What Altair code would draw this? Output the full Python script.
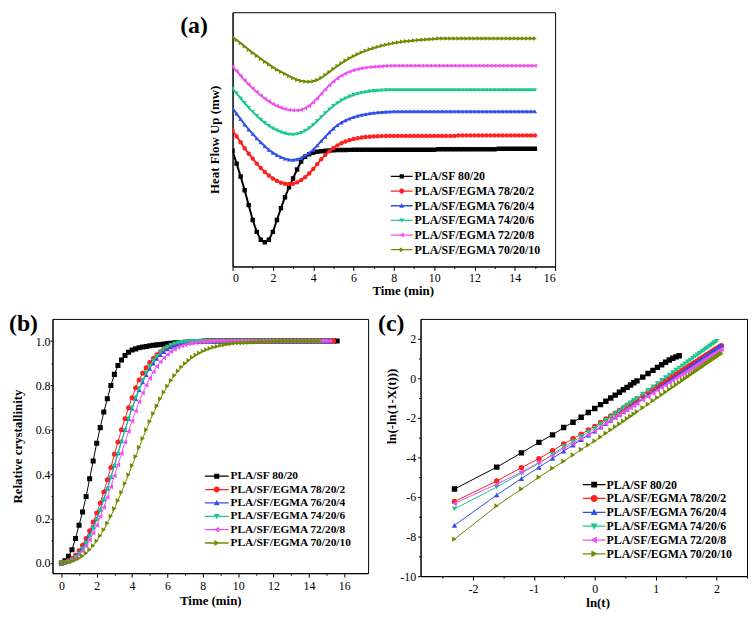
import altair as alt
import numpy as np
import pandas as pd

names = ["PLA/SF 80/20", "PLA/SF/EGMA 78/20/2", "PLA/SF/EGMA 76/20/4",
         "PLA/SF/EGMA 74/20/6", "PLA/SF/EGMA 72/20/8", "PLA/SF/EGMA 70/20/10"]
colors = ["#000000", "#ff2020", "#3050e8", "#1ec88c", "#f050f0", "#6e8c00"]
shapes = ["square", "circle", "triangle-up", "triangle-down", "triangle-left", "triangle-right"]

LEG_SIZE = 144          # nominal legend symbol size (12 px box)
UNIT = 6.0              # px per path unit for that size


def legend_paths(length_px, marker_px):
    """Legend glyphs: a short line with the marker drawn on its middle."""
    x0 = -1.0
    x1 = x0 + length_px / UNIT
    m = (x0 + x1) / 2
    r = marker_px / 2 / UNIT
    h = 0.65 / UNIT
    ln = f"M{x0:.3f},{-h:.3f}H{x1:.3f}V{h:.3f}H{x0:.3f}Z "
    s = 0.85 * r
    return [
        ln + f"M{m - s:.3f},{-s:.3f}H{m + s:.3f}V{s:.3f}H{m - s:.3f}Z",
        ln + f"M{m + r:.3f},0A{r:.3f},{r:.3f},0,1,1,{m - r:.3f},0A{r:.3f},{r:.3f},0,1,1,{m + r:.3f},0Z",
        ln + f"M{m:.3f},{-r:.3f}L{m + r:.3f},{0.8 * r:.3f}L{m - r:.3f},{0.8 * r:.3f}Z",
        ln + f"M{m:.3f},{r:.3f}L{m - r:.3f},{-0.8 * r:.3f}L{m + r:.3f},{-0.8 * r:.3f}Z",
        ln + f"M{m - r:.3f},0L{m + 0.8 * r:.3f},{-r:.3f}L{m + 0.8 * r:.3f},{r:.3f}Z",
        ln + f"M{m + r:.3f},0L{m - 0.8 * r:.3f},{r:.3f}L{m - 0.8 * r:.3f},{-r:.3f}Z",
    ]


def pad(vals, v, n):
    return list(vals) + [v] * (n - len(vals))

# ---------------- (a) heat flow, time step 0.2 min ----------------
tA = [round(0.2 * i, 1) for i in range(76)]
heat_black = pad([117, 104, 91, 77, 62, 47, 35, 27, 24.5, 27, 35, 47, 59, 70, 80, 89, 98, 106, 111,
                  113.5, 115, 116, 116.5, 117, 117.3, 117.5, 117.6, 117.7, 117.8, 117.9, 118]
                 + [118] * 20 + [118.5] * 15, 119, 76)
heat_red = pad([137.7, 131.5, 125.5, 119.5, 114, 109, 104, 99.5, 95.5, 92, 89, 86.5, 84.7, 83.6, 83.3,
                83.6, 85, 87.3, 90.3, 94, 98.5, 103.5, 108.5, 112.8, 116.5, 119.7, 122.4, 124.6, 126.3,
                127.7, 128.8, 129.7, 130.3, 130.8, 131.2, 131.5, 131.7, 131.8, 131.9, 132, 132]
               + [132] * 15, 132.5, 76)
heat_blue = pad([160, 154.5, 149, 143.5, 138.5, 134, 129.5, 125.5, 121.5, 118, 115, 112.5, 110.5, 109,
                 108, 107.7, 108.3, 109.8, 112, 114.8, 118, 122.5, 127, 131, 135.5, 139.5, 142.8, 145.5,
                 147.7, 149.5, 151, 152.2, 153.2, 154, 154.7, 155.2, 155.7, 156, 156.3, 156.5, 156.7],
                156.7, 76)
heat_green = pad([180, 175, 170, 165, 160.5, 156.3, 152.3, 148.5, 145, 142, 139.5, 137.5, 135.8, 134.5,
                  133.6, 133.3, 133.8, 135, 137, 139.8, 143.2, 147, 151, 155, 158.8, 162.2, 165.2, 167.8,
                  170, 171.8, 173.3, 174.5, 175.5, 176.3, 176.9, 177.4, 177.7, 178, 178.2, 178.3, 178.3],
                 178.3, 76)
heat_magenta = pad([202.3, 197.5, 192.8, 188.2, 184, 180, 176.3, 172.8, 169.7, 166.8, 164.3, 162.2, 160.5,
                    159.2, 158.3, 157.8, 157.8, 158.5, 160, 162.5, 166, 170, 174.5, 179, 183.3, 187, 190.2,
                    192.9, 195.1, 196.9, 198.3, 199.4, 200.3, 201, 201.5, 201.9, 202.2, 202.4, 202.6,
                    202.8, 203], 203, 76)
heat_olive = pad([232.3, 229, 225.8, 222.5, 219, 216, 213, 210, 207, 204.3, 201.5, 199, 196.8, 194.7,
                  192.5, 190.5, 188.8, 187.6, 187, 186.7, 187.2, 188.5, 190.8, 193.6, 196.6, 199.6, 202.6,
                  205.4, 208, 210.4, 212.6, 214.6, 216.4, 218, 219.5, 220.8, 222, 223.1, 224.1, 225, 225.8,
                  226.5, 227.1, 227.6, 228, 228.4, 228.8, 229.1, 229.4, 229.7, 230], 230.5, 76)
heat = [heat_black, heat_red, heat_blue, heat_green, heat_magenta, heat_olive]

# ---------------- (b) relative crystallinity, time step 0.2 min ----------------
xc_black = pad([0, 0.01, 0.03, 0.06, 0.11, 0.17, 0.23, 0.30, 0.38, 0.46, 0.54, 0.61, 0.68, 0.74, 0.80,
                0.85, 0.89, 0.915, 0.935, 0.95, 0.96, 0.965, 0.97, 0.973, 0.976, 0.979, 0.981, 0.983,
                0.985, 0.987, 0.989, 0.99, 0.992, 0.993, 0.994, 0.995, 0.996, 0.997, 0.998, 0.998, 0.999],
               1.0, 79)
xc_red = pad([0, 0.002, 0.01, 0.02, 0.035, 0.055, 0.08, 0.11, 0.145, 0.185, 0.225, 0.27, 0.32, 0.375,
              0.43, 0.49, 0.545, 0.60, 0.65, 0.70, 0.745, 0.79, 0.825, 0.855, 0.88, 0.903, 0.922, 0.938,
              0.952, 0.963, 0.972, 0.979, 0.985, 0.989, 0.992, 0.994, 0.996, 0.997, 0.998, 0.999, 1.0],
             1.0, 78)
xc_blue = pad([0, 0.002, 0.008, 0.017, 0.03, 0.047, 0.07, 0.097, 0.128, 0.163, 0.2, 0.242, 0.288, 0.337,
               0.388, 0.44, 0.495, 0.55, 0.60, 0.65, 0.697, 0.74, 0.78, 0.815, 0.848, 0.876, 0.9, 0.921,
               0.938, 0.952, 0.964, 0.973, 0.98, 0.986, 0.99, 0.993, 0.995, 0.997, 0.998, 0.999, 1.0],
              1.0, 77)
xc_green = pad([0, 0.001, 0.006, 0.014, 0.026, 0.042, 0.063, 0.089, 0.12, 0.155, 0.194, 0.237, 0.283,
                0.332, 0.384, 0.437, 0.49, 0.545, 0.598, 0.65, 0.70, 0.745, 0.787, 0.825, 0.858, 0.887,
                0.912, 0.932, 0.949, 0.963, 0.974, 0.982, 0.988, 0.992, 0.995, 0.997, 0.998, 0.999, 1.0],
               1.0, 76)
xc_magenta = pad([0, 0.001, 0.005, 0.012, 0.022, 0.036, 0.054, 0.077, 0.104, 0.135, 0.17, 0.209, 0.251,
                  0.296, 0.344, 0.393, 0.443, 0.494, 0.544, 0.593, 0.64, 0.685, 0.727, 0.766, 0.801, 0.833,
                  0.861, 0.886, 0.907, 0.925, 0.94, 0.953, 0.963, 0.972, 0.979, 0.984, 0.988, 0.991, 0.993,
                  0.995, 0.996, 0.997, 0.998, 0.999], 1.0, 77)
xc_olive = pad([0, 0.001, 0.003, 0.007, 0.013, 0.021, 0.031, 0.044, 0.06, 0.078, 0.099, 0.123, 0.15,
                0.179, 0.211, 0.245, 0.281, 0.319, 0.358, 0.398, 0.439, 0.48, 0.521, 0.561, 0.60, 0.638,
                0.674, 0.708, 0.74, 0.77, 0.797, 0.822, 0.845, 0.865, 0.883, 0.899, 0.913, 0.926, 0.937,
                0.946, 0.954, 0.961, 0.967, 0.972, 0.976, 0.98, 0.983, 0.986, 0.988, 0.99, 0.991, 0.992,
                0.993, 0.994, 0.995, 0.996, 0.997, 0.997, 0.998, 0.998, 0.999], 1.0, 74)
cryst = [xc_black, xc_red, xc_blue, xc_green, xc_magenta, xc_olive]

# ---------------- (c) Avrami plot: ln(t) vs ln(-ln(1-X)) ----------------
tC = [round(0.1 * i, 1) for i in range(1, 21)] + [round(2.0 + 0.2 * k, 1) for k in range(1, 31)]
av_black = [-5.6, -4.49, -3.77, -3.24, -2.86, -2.49, -2.22, -1.97, -1.73, -1.53, -1.33, -1.16, -1.0, -0.85,
            -0.71, -0.58, -0.46, -0.34, -0.23, -0.13, 0.06, 0.24, 0.40, 0.55, 0.68, 0.81, 0.92, 1.01, 1.08, 1.14]
av_red = [-6.23, -5.19, -4.52, -4.06, -3.66, -3.32, -3.06, -2.83, -2.61, -2.43, -2.23, -2.06, -1.91, -1.76,
          -1.63, -1.50, -1.38, -1.27, -1.16, -1.06, -0.88, -0.71, -0.55, -0.40, -0.27, -0.14, -0.02, 0.09,
          0.20, 0.30, 0.39, 0.48, 0.57, 0.66, 0.73, 0.81, 0.88, 0.96, 1.03, 1.09, 1.16, 1.22, 1.28, 1.34,
          1.39, 1.45, 1.50, 1.55, 1.61, 1.65]
av_blue = [-7.43, -5.9, -5.07, -4.5, -4.05, -3.68, -3.38, -3.1, -2.87, -2.67, -2.47, -2.29, -2.13, -1.97,
           -1.83, -1.69, -1.57, -1.45, -1.33, -1.23, -1.03, -0.85, -0.68, -0.53, -0.38, -0.25, -0.12, 0.0,
           0.11, 0.21, 0.31, 0.41, 0.50, 0.59, 0.68, 0.76, 0.84, 0.91, 0.99, 1.06, 1.13, 1.19, 1.26, 1.32,
           1.38, 1.44, 1.49, 1.55, 1.60, 1.65]
av_green = [-6.6, -5.5, -4.8, -4.3, -3.85, -3.47, -3.2, -2.95, -2.72, -2.53, -2.32, -2.13, -1.95, -1.79,
            -1.64, -1.50, -1.36, -1.24, -1.12, -1.01, -0.80, -0.61, -0.43, -0.27, -0.11, 0.03, 0.16, 0.29,
            0.41, 0.52, 0.63, 0.73, 0.83, 0.92, 1.01, 1.10, 1.18, 1.26, 1.34, 1.41, 1.49, 1.55, 1.62, 1.69,
            1.75, 1.81, 1.87]
av_magenta = [-6.33, -5.35, -4.75, -4.25, -3.9, -3.55, -3.3, -3.05, -2.85, -2.66, -2.47, -2.30, -2.14,
              -1.99, -1.85, -1.72, -1.60, -1.49, -1.38, -1.28, -1.09, -0.92, -0.76, -0.61, -0.47, -0.35,
              -0.22, -0.11, 0.0, 0.10, 0.20, 0.29, 0.38, 0.46, 0.54, 0.62, 0.70, 0.77, 0.84, 0.91, 0.97,
              1.03, 1.10, 1.16, 1.21, 1.27, 1.32, 1.38, 1.43, 1.47]
av_olive = [-8.13, -6.45, -5.6, -5.0, -4.55, -4.2, -3.88, -3.6, -3.37, -3.17, -2.97, -2.78, -2.61, -2.45,
            -2.31, -2.17, -2.04, -1.92, -1.80, -1.69, -1.49, -1.31, -1.13, -0.98, -0.83, -0.69, -0.56,
            -0.44, -0.33, -0.22, -0.11, -0.01, 0.08, 0.17, 0.26, 0.34, 0.42, 0.50, 0.57, 0.65, 0.72, 0.78,
            0.85, 0.91, 0.98, 1.03, 1.09, 1.15, 1.20, 1.25]
avrami = [av_black, av_red, av_blue, av_green, av_magenta, av_olive]


def frame_from(tlist, series, logx=False):
    rows = []
    for n, vals in zip(names, series):
        for t, v in zip(tlist, vals):
            rows.append({"x": float(np.log(t)) if logx else t, "y": v, "s": n})
    return pd.DataFrame(rows)

dfA = frame_from(tA, heat)
dfB = frame_from([round(0.2 * i, 1) for i in range(80)], cryst)
dfC = frame_from(tC, avrami, logx=True)

FONT = "Liberation Serif"


def panel(df, xscale, yscale, xaxis, yaxis, w, h, msize, lw, leg, paths, label, ldx, ldy):
    base = alt.Chart(df)
    x = alt.X("x:Q", scale=xscale, axis=xaxis)
    y = alt.Y("y:Q", scale=yscale, axis=yaxis)
    layers = []
    for n, sh, c in zip(names, shapes, colors):
        layers.append(
            base.transform_filter(alt.datum.s == n)
            .mark_line(color=c, strokeWidth=lw, clip=True,
                       point=alt.OverlayMarkDef(shape=sh, filled=True, size=msize, color=c,
                                                opacity=1, clip=True))
            .encode(x=x, y=y))
    lg = (base.transform_filter("false")
          .mark_point(filled=True, opacity=1)
          .encode(x=x, y=y,
                  color=alt.Color("s:N", scale=alt.Scale(domain=names, range=colors), legend=leg),
                  shape=alt.Shape("s:N", scale=alt.Scale(domain=names, range=paths), legend=leg)))
    layers.append(lg)
    return alt.layer(*layers).properties(
        width=w, height=h,
        title=alt.TitleParams(label, anchor="start", frame="group", dx=ldx, dy=ldy, offset=0,
                              font=FONT, fontSize=24, fontWeight="bold", color="black"))


def legend(lx, ly, fsize, rpad, loff):
    return alt.Legend(title=None, orient="none", legendX=lx, legendY=ly, symbolSize=LEG_SIZE,
                      labelFont=FONT, labelFontWeight="bold", labelFontSize=fsize, labelColor="black",
                      labelLimit=400, rowPadding=rpad, labelOffset=loff, padding=0,
                      symbolStrokeWidth=0)

even_x = "datum.value % 2 === 0 ? datum.label : ''"
minor_even = {"condition": {"test": "datum.value % 2 !== 0", "value": 2}, "value": 4}

# (a)
axA_x = alt.Axis(values=list(range(0, 17)), labelExpr=even_x, tickSize=minor_even, labelPadding=2,
                 title="Time (min)", titlePadding=1.5, titleX=172)
axA_y = alt.Axis(labels=False, ticks=False, title="Heat Flow Up (mw)", titlePadding=11)
chartA = panel(dfA, alt.Scale(domain=[0, 16], nice=False, zero=False),
               alt.Scale(domain=[0, 257], nice=False, zero=False),
               axA_x, axA_y, 326, 257, 20, 2, legend(160, 160, 12, 2.8, 12),
               legend_paths(22, 5), "(a)", -53, 26)

# (b)
axB_x = alt.Axis(values=list(range(0, 17)), labelExpr=even_x, tickSize=minor_even, labelPadding=4,
                 title="Time (min)", titlePadding=3)
axB_y = alt.Axis(values=[round(0.1 * i, 1) for i in range(11)],
                 labelExpr="round(datum.value * 10) % 2 === 0 ? format(datum.value, '.1f') : ''",
                 tickSize={"condition": {"test": "round(datum.value * 10) % 2 !== 0", "value": 1.5}, "value": 2.5},
                 labelPadding=0, title="Relative crystallinity", titlePadding=11)
chartB = panel(dfB, alt.Scale(domain=[-0.5, 17.35], nice=False, zero=False),
               alt.Scale(domain=[-0.046, 1.1], nice=False, zero=False),
               axB_x, axB_y, 319, 257, 26, 1, legend(154, 153, 11.5, 1.5, 14),
               legend_paths(24, 6), "(b)", -44, 17)

# (c)
axC_x = alt.Axis(values=[-2.5 + 0.5 * i for i in range(11)],
                 labelExpr="datum.value % 1 === 0 ? '' + datum.value : ''",
                 tickSize={"condition": {"test": "datum.value % 1 !== 0", "value": 2}, "value": 4},
                 labelPadding=4, title="ln(t)", titlePadding=2, titleX=179)
axC_y = alt.Axis(values=list(range(-10, 3)),
                 labelExpr="datum.value % 2 === 0 ? '' + datum.value : ''",
                 tickSize={"condition": {"test": "datum.value % 2 !== 0", "value": 2}, "value": 3},
                 labelPadding=2, title="ln(-ln(1-X(t)))", titlePadding=1.5, titleY=88,
                 titleAlign="center", titleAngle=270)
chartC = panel(dfC, alt.Scale(domain=[-2.86, 2.5], nice=False, zero=False),
               alt.Scale(domain=[-10, 3], nice=False, zero=False),
               axC_x, axC_y, 330, 260, 30, 1, legend(164, 161.5, 12, 2, 12),
               legend_paths(23, 7), "(c)", -43, 17)

spacer = (alt.Chart(pd.DataFrame({"z": [0]})).mark_point(opacity=0)
          .encode(x=alt.value(5), y=alt.value(5))
          .properties(width=128, height=10, view=alt.ViewBackground(strokeOpacity=0)))

top = alt.hconcat(spacer, chartA, spacing=0).resolve_scale(color="independent", shape="independent")
bottom = alt.hconcat(chartB, chartC, spacing=8).resolve_scale(color="independent", shape="independent")

chart = (alt.vconcat(top, bottom, spacing=13)
         .resolve_scale(color="independent", shape="independent")
         .properties(padding=0, background="white")
         .configure_view(stroke="black", strokeWidth=1)
         .configure_axis(grid=False, domainColor="black", tickColor="black", labelColor="black",
                         labelFont=FONT, labelFontSize=12, titleFont=FONT, titleFontSize=13,
                         titleFontWeight="bold", titleColor="black", domainWidth=1, tickWidth=1))

chart.save("out.html", embed_options={"renderer": "svg", "actions": False})
